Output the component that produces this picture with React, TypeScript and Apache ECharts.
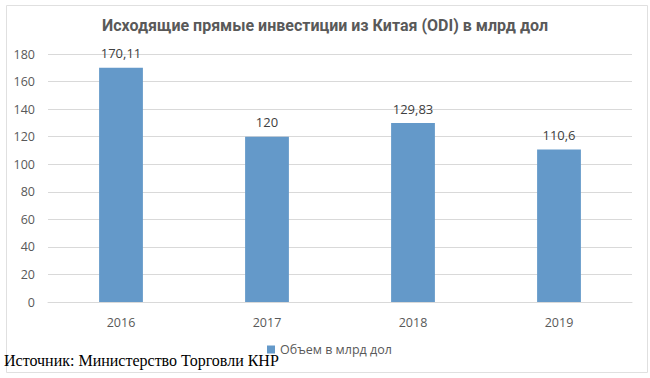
import React, { useEffect, useRef } from "react";
import * as echarts from "echarts";

const categories = ["2016", "2017", "2018", "2019"];
const values = [170.11, 120, 129.83, 110.6];
const labels = ["170,11", "120", "129,83", "110,6"];
const seriesName = "Объем в млрд дол";
const title = "Исходящие прямые инвестиции из Китая (ODI) в млрд дол";
const source = "Источник: Министерство Торговли КНР";

export default function App() {
  const ref = useRef<HTMLDivElement>(null);
  useEffect(() => {
    const chart = echarts.init(ref.current!, undefined, { renderer: "svg" });
    chart.setOption({
      animation: false,
      backgroundColor: "#ffffff",
      title: {
        text: title,
        left: "center",
        top: 12,
        textStyle: { fontFamily: "Roboto", fontSize: 16, fontWeight: "bold", color: "#595959" },
      },
      grid: { left: 48, right: 18, top: 54, bottom: 76, containLabel: false },
      legend: {
        bottom: 17,
        left: 262,
        itemWidth: 8,
        itemHeight: 8,
        itemGap: 4,
        icon: "rect",
        textStyle: { fontFamily: "Open Sans", fontSize: 12.5, color: "#595959" },
        data: [seriesName],
      },
      xAxis: {
        type: "category",
        data: categories,
        axisTick: { show: false },
        axisLine: { lineStyle: { color: "#d9d9d9" } },
        axisLabel: { fontFamily: "Open Sans", fontSize: 12.5, color: "#595959", margin: 14 },
      },
      yAxis: {
        type: "value",
        min: 0,
        max: 180,
        interval: 20,
        axisLine: { show: false },
        axisTick: { show: false },
        splitLine: { lineStyle: { color: "#d9d9d9" } },
        axisLabel: { fontFamily: "Open Sans", fontSize: 12.5, color: "#595959", margin: 13 },
      },
      series: [
        {
          name: seriesName,
          type: "bar",
          data: values,
          barWidth: "30%",
          itemStyle: { color: "#6499c9" },
          label: {
            show: true,
            position: "top",
            distance: 8,
            fontFamily: "Open Sans",
            fontSize: 13,
            color: "#404040",
            formatter: (p: any) => labels[p.dataIndex],
          },
        },
      ],
      graphic: [
        {
          type: "rect",
          left: 4,
          top: 3,
          shape: { width: 641, height: 367 },
          style: { fill: "none", stroke: "#e0e0e0", lineWidth: 1 },
          silent: true,
        },
        {
          type: "text",
          left: 4,
          top: 352,
          style: {
            text: source,
            fontFamily: "Liberation Serif",
            fontSize: 16,
            fill: "#000000",
          },
        },
      ],
    });
    return () => chart.dispose();
  }, []);
  return <div ref={ref} style={{ width: 650, height: 378, position: "absolute", left: 0, top: 0 }} />;
}
